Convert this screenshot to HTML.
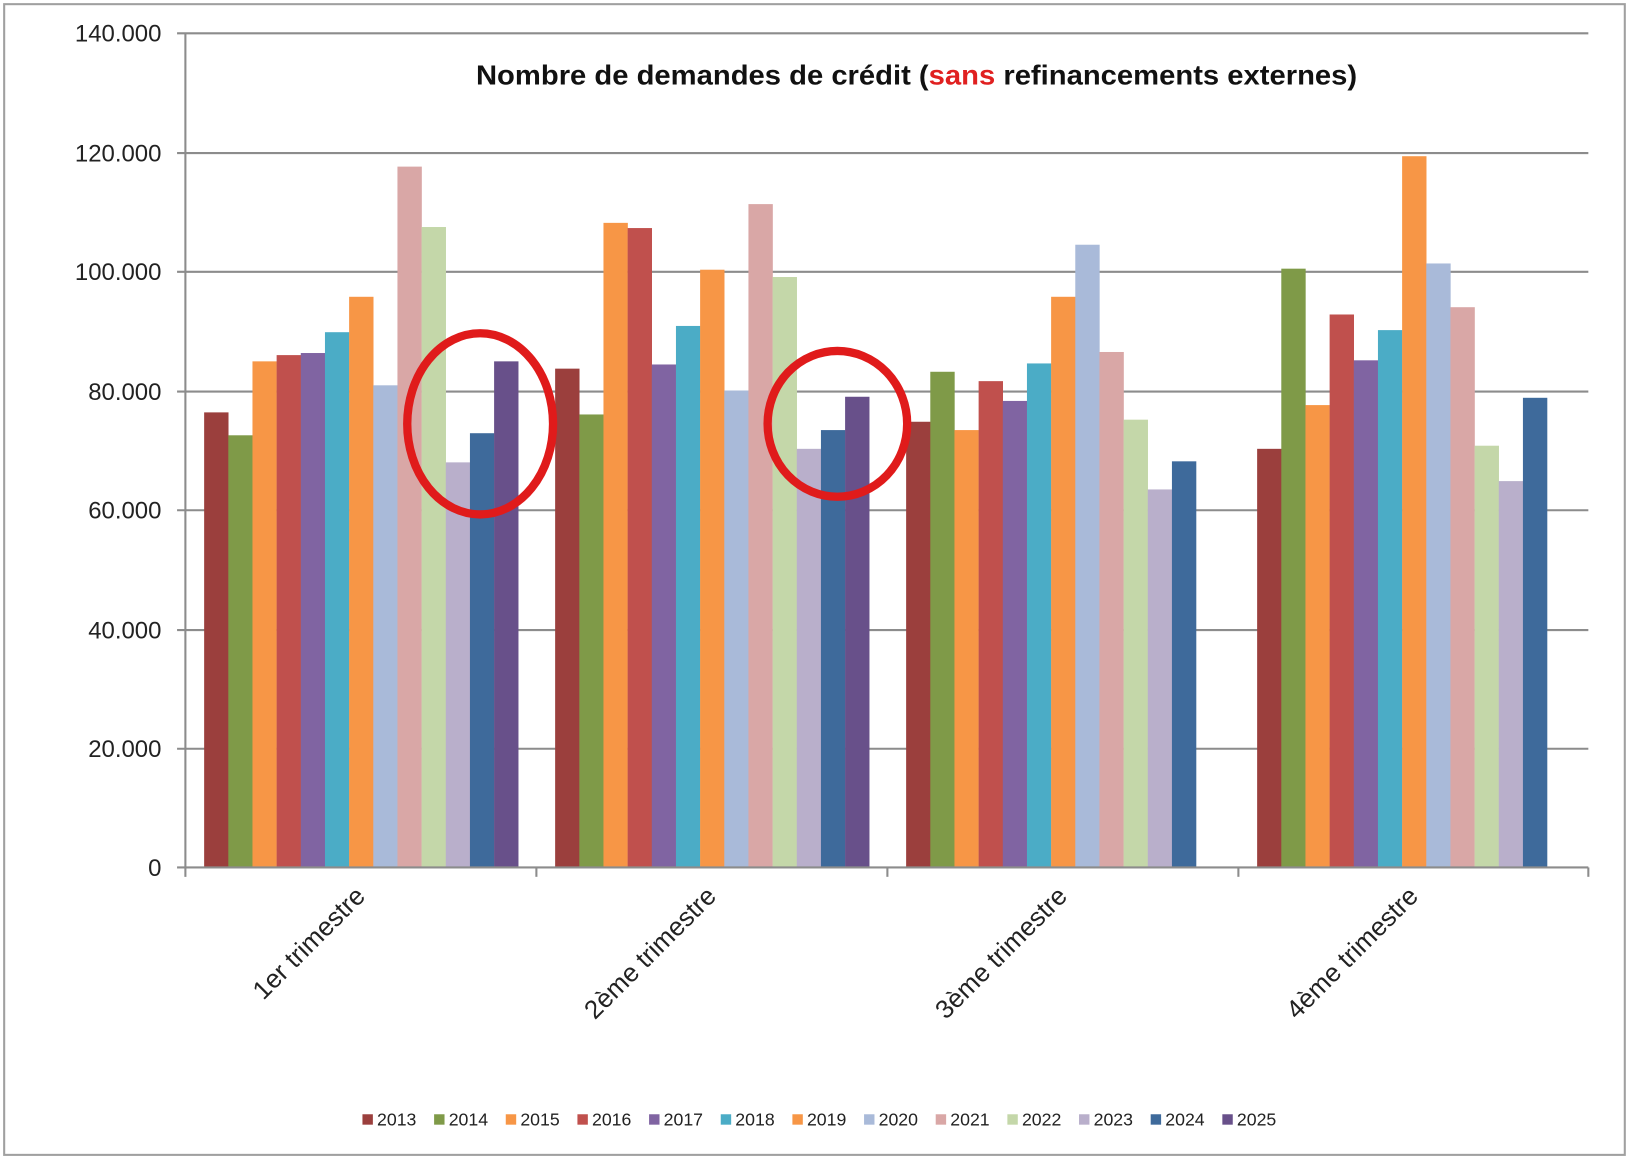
<!DOCTYPE html>
<html><head><meta charset="utf-8"><style>html,body{margin:0;padding:0;background:#fff}svg{display:block}</style></head>
<body>
<svg width="1630" height="1158" viewBox="0 0 1565 1112" preserveAspectRatio="none" xmlns="http://www.w3.org/2000/svg" font-family="'Liberation Sans', sans-serif">
<rect x="0" y="0" width="1565" height="1112" fill="#fff"/>
<rect x="4" y="4" width="1556" height="1105" fill="none" stroke="#a0a0a0" stroke-width="2"/>
<g stroke="#8c8c8c" stroke-width="2">
<line x1="170" y1="32" x2="1525" y2="32"/><line x1="170" y1="147" x2="1525" y2="147"/>
<line x1="170" y1="261" x2="1525" y2="261"/><line x1="170" y1="376" x2="1525" y2="376"/>
<line x1="170" y1="490" x2="1525" y2="490"/><line x1="170" y1="605" x2="1525" y2="605"/>
<line x1="170" y1="719" x2="1525" y2="719"/>
<line x1="178" y1="32" x2="178" y2="842"/>
</g>
<g fill="#222" font-size="23" text-anchor="end">
<text x="155" y="40">140.000</text><text x="155" y="155">120.000</text><text x="155" y="269">100.000</text>
<text x="155" y="384">80.000</text><text x="155" y="498">60.000</text><text x="155" y="613">40.000</text>
<text x="155" y="727">20.000</text><text x="155" y="841">0</text>
</g>
<text x="880" y="81" text-anchor="middle" font-size="27" font-weight="bold" fill="#111" textLength="846" lengthAdjust="spacingAndGlyphs">Nombre de demandes de crédit (<tspan fill="#e02020">sans</tspan> refinancements externes)</text>
<g>
<rect x="196" y="396" width="23.4" height="437" fill="#9B3F3D"/>
<rect x="219.2" y="418" width="23.4" height="415" fill="#7F9A48"/>
<rect x="242.4" y="347" width="23.4" height="486" fill="#F79646"/>
<rect x="265.6" y="341" width="23.4" height="492" fill="#C0504D"/>
<rect x="288.8" y="339" width="23.4" height="494" fill="#8064A2"/>
<rect x="312" y="319" width="23.4" height="514" fill="#4BACC6"/>
<rect x="335.2" y="285" width="23.4" height="548" fill="#F79646"/>
<rect x="358.4" y="370" width="23.4" height="463" fill="#A9BAD9"/>
<rect x="381.6" y="160" width="23.4" height="673" fill="#D9A7A6"/>
<rect x="404.8" y="218" width="23.4" height="615" fill="#C4D7A9"/>
<rect x="428" y="444" width="23.4" height="389" fill="#B9AFCB"/>
<rect x="451.2" y="416" width="23.4" height="417" fill="#3E6A9B"/>
<rect x="474.4" y="347" width="23.4" height="486" fill="#68508A"/>

<rect x="533" y="354" width="23.4" height="479" fill="#9B3F3D"/>
<rect x="556.2" y="398" width="23.4" height="435" fill="#7F9A48"/>
<rect x="579.4" y="214" width="23.4" height="619" fill="#F79646"/>
<rect x="602.6" y="219" width="23.4" height="614" fill="#C0504D"/>
<rect x="625.8" y="350" width="23.4" height="483" fill="#8064A2"/>
<rect x="649" y="313" width="23.4" height="520" fill="#4BACC6"/>
<rect x="672.2" y="259" width="23.4" height="574" fill="#F79646"/>
<rect x="695.4" y="375" width="23.4" height="458" fill="#A9BAD9"/>
<rect x="718.6" y="196" width="23.4" height="637" fill="#D9A7A6"/>
<rect x="741.8" y="266" width="23.4" height="567" fill="#C4D7A9"/>
<rect x="765" y="431" width="23.4" height="402" fill="#B9AFCB"/>
<rect x="788.2" y="413" width="23.4" height="420" fill="#3E6A9B"/>
<rect x="811.4" y="381" width="23.4" height="452" fill="#68508A"/>

<rect x="870" y="405" width="23.4" height="428" fill="#9B3F3D"/>
<rect x="893.2" y="357" width="23.4" height="476" fill="#7F9A48"/>
<rect x="916.4" y="413" width="23.4" height="420" fill="#F79646"/>
<rect x="939.6" y="366" width="23.4" height="467" fill="#C0504D"/>
<rect x="962.8" y="385" width="23.4" height="448" fill="#8064A2"/>
<rect x="986" y="349" width="23.4" height="484" fill="#4BACC6"/>
<rect x="1009.2" y="285" width="23.4" height="548" fill="#F79646"/>
<rect x="1032.4" y="235" width="23.4" height="598" fill="#A9BAD9"/>
<rect x="1055.6" y="338" width="23.4" height="495" fill="#D9A7A6"/>
<rect x="1078.8" y="403" width="23.4" height="430" fill="#C4D7A9"/>
<rect x="1102" y="470" width="23.4" height="363" fill="#B9AFCB"/>
<rect x="1125.2" y="443" width="23.4" height="390" fill="#3E6A9B"/>

<rect x="1207" y="431" width="23.4" height="402" fill="#9B3F3D"/>
<rect x="1230.2" y="258" width="23.4" height="575" fill="#7F9A48"/>
<rect x="1253.4" y="389" width="23.4" height="444" fill="#F79646"/>
<rect x="1276.6" y="302" width="23.4" height="531" fill="#C0504D"/>
<rect x="1299.8" y="346" width="23.4" height="487" fill="#8064A2"/>
<rect x="1323" y="317" width="23.4" height="516" fill="#4BACC6"/>
<rect x="1346.2" y="150" width="23.4" height="683" fill="#F79646"/>
<rect x="1369.4" y="253" width="23.4" height="580" fill="#A9BAD9"/>
<rect x="1392.6" y="295" width="23.4" height="538" fill="#D9A7A6"/>
<rect x="1415.8" y="428" width="23.4" height="405" fill="#C4D7A9"/>
<rect x="1439" y="462" width="23.4" height="371" fill="#B9AFCB"/>
<rect x="1462.2" y="382" width="23.4" height="451" fill="#3E6A9B"/>
</g>
<g stroke="#8c8c8c" stroke-width="2" fill="none">
<line x1="170" y1="833" x2="1525" y2="833"/>
<line x1="515" y1="833" x2="515" y2="842"/><line x1="852" y1="833" x2="852" y2="842"/>
<line x1="1189" y1="833" x2="1189" y2="842"/><line x1="1525" y1="833" x2="1525" y2="842"/>
</g>
<g font-size="25" fill="#222" text-anchor="end">
<text transform="translate(352,862) rotate(-45)">1er trimestre</text>
<text transform="translate(689,862) rotate(-45)">2ème trimestre</text>
<text transform="translate(1026,862) rotate(-45)">3ème trimestre</text>
<text transform="translate(1363,862) rotate(-45)">4ème trimestre</text>
</g>
<g fill="none" stroke="#e01b1b" stroke-width="8">
<ellipse cx="461" cy="407" rx="70" ry="87"/>
<ellipse cx="804" cy="407" rx="67" ry="70"/>
</g>
<g font-size="17" fill="#222">
<rect x="348" y="1070" width="10" height="10" fill="#9B3F3D"/><text x="362" y="1081">2013</text>
<rect x="416.8" y="1070" width="10" height="10" fill="#7F9A48"/><text x="430.8" y="1081">2014</text>
<rect x="485.6" y="1070" width="10" height="10" fill="#F79646"/><text x="499.6" y="1081">2015</text>
<rect x="554.4" y="1070" width="10" height="10" fill="#C0504D"/><text x="568.4" y="1081">2016</text>
<rect x="623.2" y="1070" width="10" height="10" fill="#8064A2"/><text x="637.2" y="1081">2017</text>
<rect x="692" y="1070" width="10" height="10" fill="#4BACC6"/><text x="706" y="1081">2018</text>
<rect x="760.8" y="1070" width="10" height="10" fill="#F79646"/><text x="774.8" y="1081">2019</text>
<rect x="829.6" y="1070" width="10" height="10" fill="#A9BAD9"/><text x="843.6" y="1081">2020</text>
<rect x="898.4" y="1070" width="10" height="10" fill="#D9A7A6"/><text x="912.4" y="1081">2021</text>
<rect x="967.2" y="1070" width="10" height="10" fill="#C4D7A9"/><text x="981.2" y="1081">2022</text>
<rect x="1036" y="1070" width="10" height="10" fill="#B9AFCB"/><text x="1050" y="1081">2023</text>
<rect x="1104.8" y="1070" width="10" height="10" fill="#3E6A9B"/><text x="1118.8" y="1081">2024</text>
<rect x="1173.6" y="1070" width="10" height="10" fill="#68508A"/><text x="1187.6" y="1081">2025</text>
</g>
</svg>
</body></html>
